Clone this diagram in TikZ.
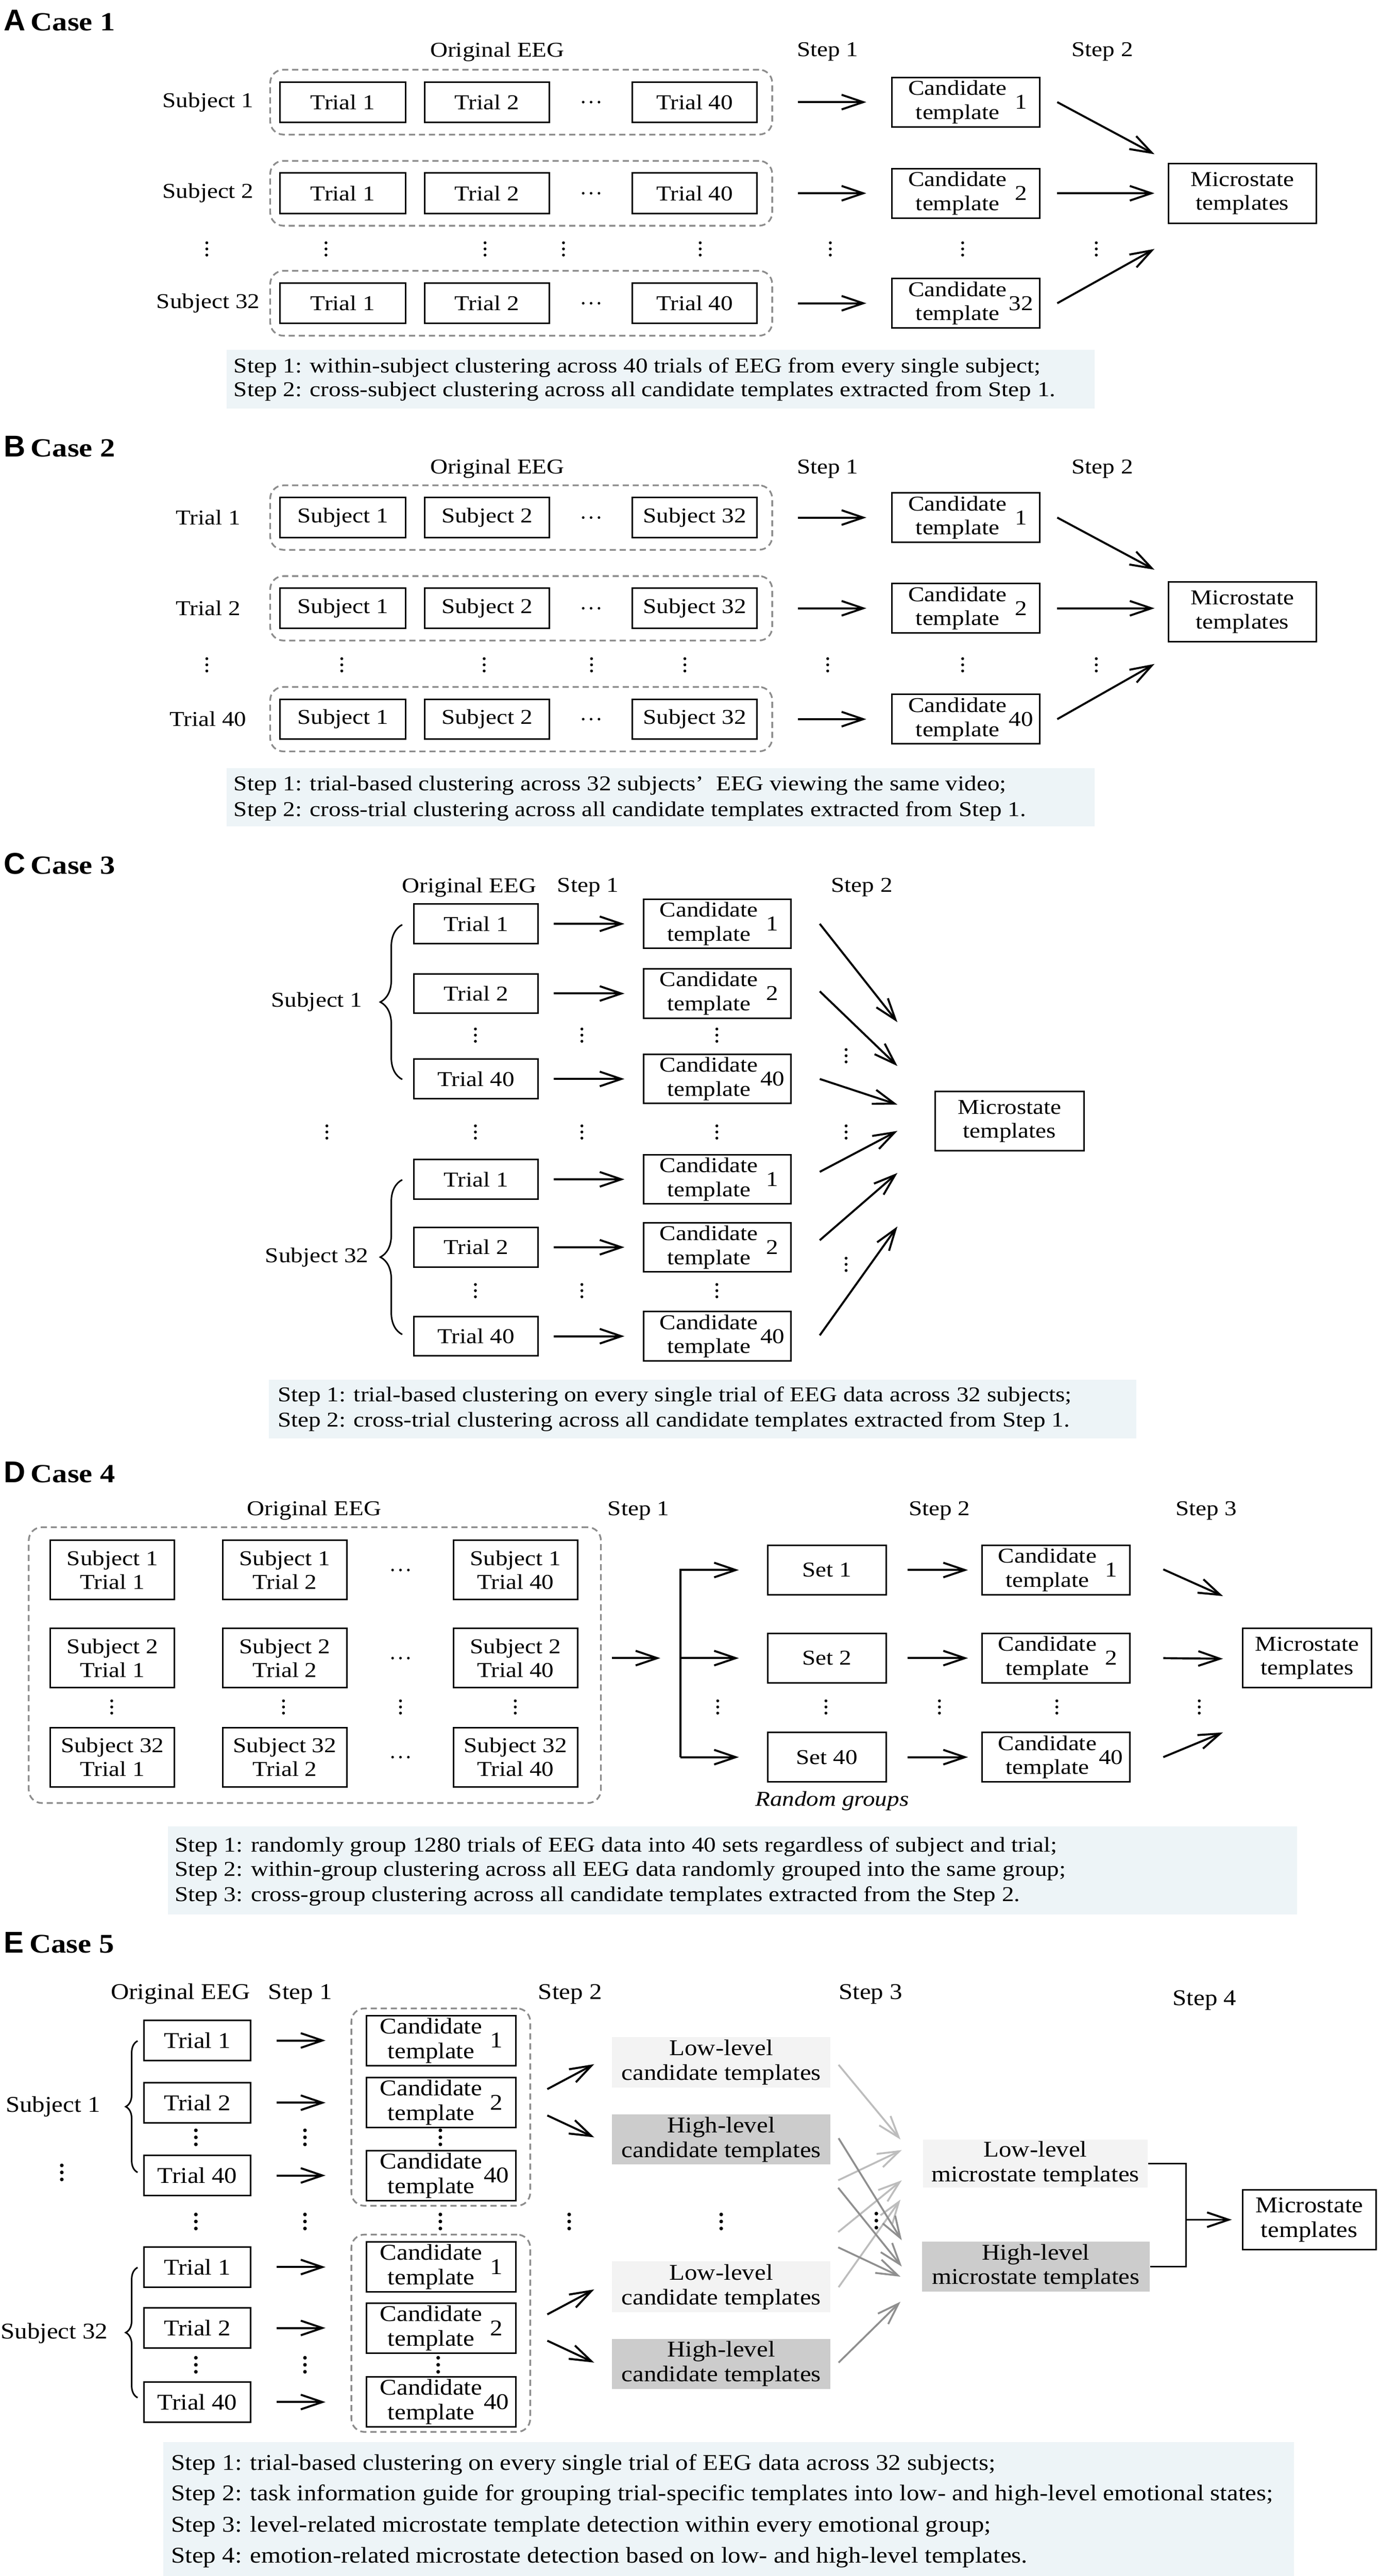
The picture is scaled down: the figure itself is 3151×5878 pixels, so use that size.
\documentclass[tikz,border=0pt]{standalone}
\usepackage{fontspec}
\setmainfont{Liberation Serif}
\newfontfamily\fA[FakeStretch=1.15]{Liberation Serif}
\newfontfamily\fB[FakeStretch=1.12]{Liberation Serif}
\newfontfamily\fL{Liberation Sans}
\usetikzlibrary{arrows.meta,calc,decorations.pathreplacing}
\definecolor{notebg}{HTML}{EDF4F7}
\definecolor{lowfill}{HTML}{F3F3F3}
\definecolor{highfill}{HTML}{CCCCCC}
\definecolor{lightarr}{HTML}{BDBDBD}
\definecolor{darkarr}{HTML}{8F8F8F}
\definecolor{dashgray}{HTML}{8C8C8C}
\newcommand\tA{\fA\fontsize{13.7}{15.6}\selectfont}
\newcommand\tB{\fB\fontsize{14.6}{16}\selectfont}
\newcommand\ttlA[2]{{\fL\bfseries\fontsize{19.5}{21}\selectfont #1}\hspace{0.25em}{\fA\bfseries\fontsize{17}{20}\selectfont Case #2}}
\newcommand\ttlB[2]{{\fL\bfseries\fontsize{19.5}{21}\selectfont #1}\hspace{0.25em}{\fB\bfseries\fontsize{17.5}{20}\selectfont Case #2}}
\newcommand\vd[2]{\fill (#1,#2-14) circle[radius=0.033cm] (#1,#2) circle[radius=0.033cm] (#1,#2+14) circle[radius=0.033cm];}
\newcommand\vdB[2]{\fill (#1,#2-16) circle[radius=0.042cm] (#1,#2) circle[radius=0.042cm] (#1,#2+16) circle[radius=0.042cm];}
\newcommand\hd[2]{\fill (#1-18,#2) circle[radius=0.03cm] (#1,#2) circle[radius=0.03cm] (#1+18,#2) circle[radius=0.03cm];}
\tikzset{
 box/.style 2 args={draw, line width=1pt, minimum width=#1, minimum height=#2, inner sep=0pt, align=center},
 dbox/.style 2 args={draw=dashgray, dash pattern=on 4pt off 2.5pt, line width=1.1pt, rounded corners=0.3cm, minimum width=#1, minimum height=#2, inner sep=0pt},
 notebox/.style 2 args={fill=notebg, minimum width=#1, minimum height=#2, inner sep=0pt, anchor=north west},
 lowbox/.style 2 args={fill=lowfill, minimum width=#1, minimum height=#2, inner sep=0pt, align=center},
 highbox/.style 2 args={fill=highfill, minimum width=#1, minimum height=#2, inner sep=0pt, align=center},
 arr/.style={-{Straight Barb[length=14pt,width=9.5pt]}, line width=1.3pt},
 brc/.style={decorate, decoration={brace, amplitude=#1, aspect=0.5}, line width=1pt},
 txt/.style={anchor=west, inner sep=0pt},
}
\newcommand\cand[6]{%
 \node[box={#4}{#5}] (#1) at (#2,#3) {};
 \node[align=center, inner sep=0pt] (#1t) at ($(#1.center)+(-19,0)$) {Candidate\\template};
 \node[inner sep=0pt] (#1n) at ($(#1.center)+(126,0)$) {#6};
}
\begin{document}
\begin{tikzpicture}[x=0.01cm,y=-0.01cm, every node/.style={font=\tA, inner sep=0pt}]
\useasboundingbox (0,0) rectangle (3151,5878);
\fill[white] (0,0) rectangle (3151,5878);

% ================= Case 1 =================
\node[anchor=west] (tA) at (8,47) {\ttlA{A}{1}};
\node (a-h1) at (1135,118) {Original EEG};
\node (a-h2) at (1889,118) {Step 1};
\node (a-h3) at (2516,118) {Step 2};
\foreach \y/\s/\n/\i in {233/Subject 1/1/1, 441/Subject 2/2/2, 692/Subject 32/32/3} {
  \node[dbox={11.45cm}{1.48cm}] (a-d\i) at (1189.5,\y) {};
  \node[box={2.87cm}{0.92cm}] (a-t1\i) at (782.5,\y) {Trial 1};
  \node[box={2.85cm}{0.92cm}] (a-t2\i) at (1111.5,\y) {Trial 2};
  \node[box={2.85cm}{0.92cm}] (a-t3\i) at (1585.5,\y) {Trial 40};
  \hd{1349}{\y}
  \node (a-s\i) at (475,\y) {\s};
  \cand{a-c\i}{2204.5}{\y}{3.37cm}{1.13cm}{\n}
  \draw[arr] ($(a-d\i.east)+(57,0)$) -- ($(a-c\i.west)+(-57,0)$);
}
\node[box={3.37cm}{1.36cm}] (a-m) at (2835.5,441) {Microstate\\templates};
\draw[arr] ($(a-c1.east)+(38,0)$) -- ($(a-c1.east)+(260,119)$);
\draw[arr] ($(a-c2.east)+(38,0)$) -- ($(a-c2.east)+(260,0)$);
\draw[arr] ($(a-c3.east)+(38,0)$) -- ($(a-c3.east)+(260,-124)$);
\foreach \x in {472,744,1107,1286,1598,1895,2197,2502} {\vd{\x}{568}}
\node[notebox={19.8cm}{1.34cm}] (a-n) at (516,797) {};
\node[txt] (a-n1) at (533,839) {Step 1: within-subject clustering across 40 trials of EEG from every single subject;};
\node[txt] (a-n2) at (533,893) {Step 2: cross-subject clustering across all candidate templates extracted from Step 1.};

% ================= Case 2 =================
\node[anchor=west] (tB) at (8,1019) {\ttlA{B}{2}};
\node (b-h1) at (1135,1070) {Original EEG};
\node (b-h2) at (1889,1070) {Step 1};
\node (b-h3) at (2516,1070) {Step 2};
\foreach \y/\s/\n/\i in {1181/Trial 1/1/1, 1388/Trial 2/2/2, 1641/Trial 40/40/3} {
  \node[dbox={11.45cm}{1.47cm}] (b-d\i) at (1189.5,\y) {};
  \node[box={2.87cm}{0.91cm}] (b-t1\i) at (782.5,\y) {Subject 1};
  \node[box={2.85cm}{0.91cm}] (b-t2\i) at (1111.5,\y) {Subject 2};
  \node[box={2.85cm}{0.91cm}] (b-t3\i) at (1585.5,\y) {Subject 32};
  \hd{1349}{\y}
  \node (b-s\i) at (475,\y) {\s};
  \cand{b-c\i}{2204.5}{\y}{3.37cm}{1.13cm}{\n}
  \draw[arr] ($(b-d\i.east)+(57,0)$) -- ($(b-c\i.west)+(-57,0)$);
}
\node[box={3.37cm}{1.37cm}] (b-m) at (2835.5,1396) {Microstate\\templates};
\draw[arr] ($(b-c1.east)+(38,0)$) -- ($(b-c1.east)+(260,119)$);
\draw[arr] ($(b-c2.east)+(38,0)$) -- ($(b-c2.east)+(260,0)$);
\draw[arr] ($(b-c3.east)+(38,0)$) -- ($(b-c3.east)+(260,-126)$);
\foreach \x in {472,780,1105,1350,1563,1889,2197,2502} {\vd{\x}{1517}}
\node[notebox={19.8cm}{1.33cm}] (b-n) at (516,1752) {};
\node[txt] (b-n1) at (533,1792) {Step 1: trial-based clustering across 32 subjects’\hspace{0.6em}EEG viewing the same video;};
\node[txt] (b-n2) at (533,1851) {Step 2: cross-trial clustering across all candidate templates extracted from Step 1.};

% ================= Case 3 =================
\node[anchor=west] (tC) at (8,1971) {\ttlA{C}{3}};
\node (c-h1) at (1071,2025) {Original EEG};
\node (c-h2) at (1342,2025) {Step 1};
\node (c-h3) at (1967,2025) {Step 2};
\foreach \y/\t/\n/\i in {2108/Trial 1/1/1, 2267/Trial 2/2/2, 2462/Trial 40/40/3, 2691/Trial 1/1/4, 2846/Trial 2/2/5, 3049/Trial 40/40/6} {
  \node[box={2.83cm}{0.90cm}] (c-t\i) at (1086.5,\y) {\t};
  \cand{c-c\i}{1637}{\y}{3.36cm}{1.12cm}{\n}
  \draw[arr] ($(c-t\i.east)+(34,0)$) -- ($(c-c\i.west)+(-42,0)$);
}
\node[box={3.40cm}{1.35cm}] (c-m) at (2304,2558.5) {Microstate\\templates};
\draw[arr] ($(c-c1.east)+(64,0)$) -- ($(c-m.west)+(-84,-226)$);
\draw[arr] ($(c-c2.east)+(64,-5)$) -- ($(c-m.west)+(-84,-126)$);
\draw[arr] ($(c-c3.east)+(64,0)$) -- ($(c-m.west)+(-84,-38)$);
\draw[arr] ($(c-c4.east)+(64,-17)$) -- ($(c-m.west)+(-84,22)$);
\draw[arr] ($(c-c5.east)+(64,-16)$) -- ($(c-m.west)+(-84,118)$);
\draw[arr] ($(c-c6.east)+(64,-2)$) -- ($(c-m.west)+(-84,240)$);
\foreach \x in {1085,1328,1636} {\vd{\x}{2362}\vd{\x}{2945}}
\foreach \x in {746,1085,1328,1636,1931} {\vd{\x}{2583}}
\vd{1931}{2409}
\vd{1931}{2885}
\draw[brc=0.5cm] (918,2463) -- (918,2110);
\draw[brc=0.5cm] (918,3045) -- (918,2692);
\node (c-s1) at (723,2286) {Subject 1};
\node (c-s2) at (723,2869) {Subject 32};
\node[notebox={19.79cm}{1.34cm}] (c-n) at (613,3148) {};
\node[txt] (c-n1) at (633,3186) {Step 1: trial-based clustering on every single trial of EEG data across 32 subjects;};
\node[txt] (c-n2) at (633,3244) {Step 2: cross-trial clustering across all candidate templates extracted from Step 1.};

% ================= Case 4 =================
\node[anchor=west] (tD) at (8,3360) {\ttlA{D}{4}};
\node (d-h1) at (717,3447) {Original EEG};
\node (d-h2) at (1457,3447) {Step 1};
\node (d-h3) at (2144,3447) {Step 2};
\node (d-h4) at (2753,3447) {Step 3};
\node[dbox={13.05cm}{6.29cm}] (d-d) at (718.5,3799.5) {};
\foreach \cx/\t/\j in {256.5/1/1, 650/2/2, 1176.5/40/3} {
  \foreach \cy/\s/\i in {3582.5/1/1, 3783.5/2/2, 4009.5/32/3} {
    \node[box={2.83cm}{1.35cm}] (d-b\i\j) at (\cx,\cy) {Subject \s\\Trial \t};
  }
}
\foreach \y in {3582.5,3783.5,4009.5} {\hd{914}{\y}}
\foreach \x in {255,647,914,1176,1638,1885,2144,2412,2737} {\vd{\x}{3895}}
\foreach \y/\n/\i in {3582.5/1/1, 3783.5/2/2, 4009.5/40/3} {
  \node[box={2.70cm}{1.13cm}] (d-s\i) at (1887,\y) {Set \n};
  \cand{d-c\i}{2409.5}{\y}{3.37cm}{1.13cm}{\n}
  \draw[arr] ($(d-s\i.east)+(48,0)$) -- ($(d-c\i.west)+(-30,0)$);
  \coordinate (d-j\i) at (1553,\y);
}
\coordinate (d-a0) at (1397,3783.5);
\coordinate (d-a1) at (1507,3783.5);
\draw[arr] (d-a0) -- (d-a1);
\draw[arr] (d-j3) -- (d-j1) -- ($(d-s1.west)+(-64,0)$);
\draw[arr] (d-j2) -- ($(d-s2.west)+(-64,0)$);
\draw[arr] (d-j3) -- ($(d-s3.west)+(-64,0)$);
\node[box={2.94cm}{1.35cm}] (d-m) at (2983,3783.5) {Microstate\\templates};
\draw[arr] ($(d-c1.east)+(75,-1.5)$) -- ($(d-m.west)+(-43,-141.5)$);
\draw[arr] ($(d-c2.east)+(75,0)$) -- ($(d-m.west)+(-43,1.5)$);
\draw[arr] ($(d-c3.east)+(75,0)$) -- ($(d-m.west)+(-43,169.5)$);
\node (d-rg) at (1899,4110) {\itshape Random groups};
\node[notebox={25.76cm}{2.01cm}] (d-n) at (382,4167) {};
\node[txt] (d-n1) at (398,4214) {Step 1: randomly group 1280 trials of EEG data into 40 sets regardless of subject and trial;};
\node[txt] (d-n2) at (398,4269) {Step 2: within-group clustering across all EEG data randomly grouped into the same group;};
\node[txt] (d-n3) at (398,4327) {Step 3: cross-group clustering across all candidate templates extracted from the Step 2.};

% ================= Case 5 =================
\begin{scope}[every node/.append style={font=\tB}]
\node[anchor=west] (tE) at (8,4433) {\ttlB{E}{5}};
\node (e-h1) at (412,4550) {Original EEG};
\node (e-h2) at (685,4550) {Step 1};
\node (e-h3) at (1301,4550) {Step 2};
\node (e-h4) at (1987,4550) {Step 3};
\node (e-h5) at (2749,4564) {Step 4};
\node[dbox={4.08cm}{4.50cm}] (e-d1) at (1006,4808) {};
\node[dbox={4.08cm}{4.50cm}] (e-d2) at (1006,5324) {};
\foreach \y/\t/\n/\i in {4656/Trial 1/1/1, 4798/Trial 2/2/2, 4964/Trial 40/40/3, 5173/Trial 1/1/4, 5312/Trial 2/2/5, 5481/Trial 40/40/6} {
  \node[box={2.43cm}{0.91cm}] (e-t\i) at (450.5,\y) {\t};
  \node[box={3.40cm}{1.14cm}] (e-c\i) at (1007,\y) {};
  \node[align=center, inner sep=0pt] (e-c\i t) at ($(e-c\i.center)+(-23,0)$) {Candidate\\template};
  \node[inner sep=0pt] (e-c\i n) at ($(e-c\i.center)+(126,0)$) {\n};
  \draw[arr] ($(e-t\i.east)+(57,0)$) -- ($(e-t\i.east)+(169,0)$);
}
\draw[brc=0.27cm] (314,4957) -- (314,4657);
\draw[brc=0.27cm] (314,5471) -- (314,5174);
\node (e-s1) at (121,4807) {Subject 1};
\node (e-s2) at (124,5324) {Subject 32};
\foreach \x in {447,696,1005} {\vdB{\x}{4877}}
\foreach \x in {447,696,1000} {\vdB{\x}{5396}}
\foreach \x in {447,696,1005,1299,1646} {\vdB{\x}{5069}}
\vdB{141}{4957}
\vdB{2000}{5067}
\node[lowbox={4.98cm}{1.15cm}] (e-l1) at (1646,4705.5) {Low-level\\candidate templates};
\node[highbox={4.98cm}{1.14cm}] (e-g1) at (1646,4882) {High-level\\candidate templates};
\node[lowbox={4.98cm}{1.16cm}] (e-l2) at (1646,5218) {Low-level\\candidate templates};
\node[highbox={4.98cm}{1.14cm}] (e-g2) at (1646,5394) {High-level\\candidate templates};
\draw[arr] ($(e-d1.east)+(37,-41)$) -- ($(e-l1.west)+(-40,4.5)$);
\draw[arr] ($(e-d1.east)+(37,19)$) -- ($(e-g1.west)+(-40,-5)$);
\draw[arr] ($(e-d2.east)+(37,-43)$) -- ($(e-l2.west)+(-40,6)$);
\draw[arr] ($(e-d2.east)+(37,17)$) -- ($(e-g2.west)+(-40,-3)$);
\node[lowbox={5.12cm}{1.10cm}] (e-lm) at (2363,4937) {Low-level\\microstate templates};
\node[highbox={5.20cm}{1.14cm}] (e-hm) at (2364,5172) {High-level\\microstate templates};
\coordinate (e-x1) at (1913,4975);
\coordinate (e-x2) at (1913,5093);
\coordinate (e-x3) at (1913,4992);
\coordinate (e-x4) at (1913,5128);
\begin{scope}[arr/.append style={line width=1.2pt}]
\draw[arr, draw=lightarr] ($(e-l1.east)+(18,6)$) -- ($(e-lm.west)+(-51,-55)$);
\draw[arr, draw=lightarr] (e-x1) -- ($(e-lm.west)+(-48,-31)$);
\draw[arr, draw=lightarr] (e-x2) -- ($(e-lm.west)+(-48,38)$);
\draw[arr, draw=lightarr] ($(e-l2.east)+(18,1)$) -- ($(e-lm.west)+(-51,82)$);
\draw[arr, draw=darkarr] ($(e-g1.east)+(18,-3)$) -- ($(e-hm.west)+(-45,-60)$);
\draw[arr, draw=darkarr] (e-x3) -- ($(e-hm.west)+(-45,0)$);
\draw[arr, draw=darkarr] (e-x4) -- ($(e-hm.west)+(-48,23)$);
\draw[arr, draw=darkarr] ($(e-g2.east)+(18,-3)$) -- ($(e-hm.west)+(-48,80)$);
\end{scope}
\node[box={3.04cm}{1.36cm}] (e-m) at (2988,5065) {Microstate\\templates};
\coordinate (e-b1) at (2707,4937);
\coordinate (e-b2) at (2707,5172);
\coordinate (e-b3) at (2707,5065);
\draw[line width=1.2pt] (e-lm.east) -- (e-b1) -- (e-b2) -- (e-hm.east);
\draw[arr] (e-b3) -- ($(e-m.west)+(-23,0)$);
\node[notebox={25.79cm}{3.07cm}] (e-n) at (372,5571) {};
\node[txt] (e-n1) at (390,5624) {Step 1: trial-based clustering on every single trial of EEG data across 32 subjects;};
\node[txt] (e-n2) at (390,5693) {Step 2: task information guide for grouping trial-specific templates into low- and high-level emotional states;};
\node[txt] (e-n3) at (390,5765) {Step 3: level-related microstate template detection within every emotional group;};
\node[txt] (e-n4) at (390,5836) {Step 4: emotion-related microstate detection based on low- and high-level templates.};
\end{scope}
\end{tikzpicture}
\end{document}
